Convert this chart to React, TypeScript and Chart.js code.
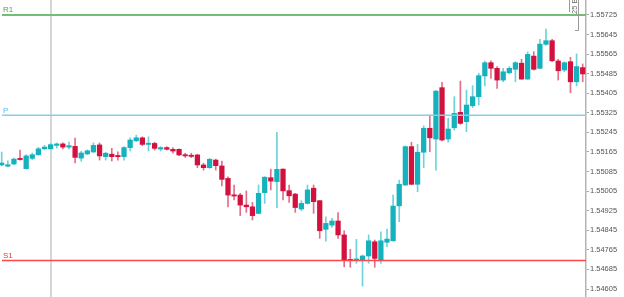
import React, { useEffect, useRef } from "react";
import { Chart, registerables } from "chart.js";

Chart.register(...registerables);

// ---- data ----
const opens = [
  1.55112, 1.55107, 1.55116, 1.55138, 1.55097, 1.55139, 1.55154, 1.55178, 1.55178, 1.55192,
  1.55198, 1.55185, 1.55188, 1.55140, 1.55157, 1.55165, 1.55194, 1.55146, 1.55156, 1.55149,
  1.55146, 1.55183, 1.55211, 1.55223, 1.55196, 1.55200, 1.55177, 1.55183, 1.55176, 1.55176,
  1.55153, 1.55150, 1.55153, 1.55112, 1.55101, 1.55132, 1.55108, 1.55057, 1.54989, 1.54989,
  1.54948, 1.54941, 1.54914, 1.54999, 1.55060, 1.55044, 1.55095, 1.55007, 1.54993, 1.54932,
  1.54955, 1.55017, 1.54966, 1.54849, 1.54866, 1.54883, 1.54826, 1.54726, 1.54723, 1.54723,
  1.54740, 1.54798, 1.54723, 1.54796, 1.54802, 1.54945, 1.55030, 1.55187, 1.55033, 1.55164,
  1.55262, 1.55218, 1.55428, 1.55218, 1.55264, 1.55327, 1.55289, 1.55354, 1.55391, 1.55476,
  1.55530, 1.55507, 1.55459, 1.55489, 1.55503, 1.55528, 1.55463, 1.55557, 1.55507, 1.55605,
  1.55620, 1.55537, 1.55500, 1.55534, 1.55452, 1.55510,
];
const highs = [
  1.55165, 1.55129, 1.55140, 1.55173, 1.55154, 1.55161, 1.55184, 1.55192, 1.55200, 1.55202,
  1.55202, 1.55206, 1.55222, 1.55168, 1.55174, 1.55202, 1.55202, 1.55164, 1.55180, 1.55166,
  1.55187, 1.55223, 1.55234, 1.55227, 1.55227, 1.55205, 1.55187, 1.55187, 1.55183, 1.55178,
  1.55160, 1.55160, 1.55156, 1.55119, 1.55139, 1.55136, 1.55128, 1.55064, 1.55030, 1.54996,
  1.55006, 1.54959, 1.55030, 1.55064, 1.55095, 1.55245, 1.55096, 1.55030, 1.54996, 1.54966,
  1.55030, 1.55030, 1.54967, 1.54900, 1.54894, 1.54917, 1.54843, 1.54767, 1.54808, 1.54744,
  1.54826, 1.54805, 1.54839, 1.54850, 1.54989, 1.55050, 1.55190, 1.55205, 1.55196, 1.55272,
  1.55316, 1.55416, 1.55450, 1.55303, 1.55391, 1.55455, 1.55418, 1.55436, 1.55487, 1.55537,
  1.55538, 1.55514, 1.55507, 1.55514, 1.55534, 1.55544, 1.55574, 1.55575, 1.55626, 1.55667,
  1.55626, 1.55544, 1.55534, 1.55552, 1.55566, 1.55525,
];
const lows = [
  1.55108, 1.55104, 1.55113, 1.55132, 1.55095, 1.55134, 1.55151, 1.55174, 1.55176, 1.55181,
  1.55178, 1.55178, 1.55120, 1.55127, 1.55154, 1.55163, 1.55132, 1.55132, 1.55128, 1.55132,
  1.55132, 1.55169, 1.55207, 1.55191, 1.55169, 1.55173, 1.55169, 1.55173, 1.55160, 1.55150,
  1.55143, 1.55142, 1.55101, 1.55091, 1.55098, 1.55091, 1.55026, 1.54941, 1.54969, 1.54905,
  1.54918, 1.54887, 1.54912, 1.54955, 1.55010, 1.54937, 1.54969, 1.54959, 1.54918, 1.54925,
  1.54952, 1.54914, 1.54812, 1.54801, 1.54857, 1.54812, 1.54696, 1.54694, 1.54710, 1.54617,
  1.54710, 1.54694, 1.54710, 1.54778, 1.54800, 1.54880, 1.55028, 1.55031, 1.55003, 1.55101,
  1.55166, 1.55091, 1.55210, 1.55205, 1.55255, 1.55278, 1.55248, 1.55346, 1.55357, 1.55435,
  1.55466, 1.55425, 1.55452, 1.55484, 1.55452, 1.55462, 1.55462, 1.55500, 1.55506, 1.55602,
  1.55534, 1.55459, 1.55493, 1.55407, 1.55435, 1.55452,
];
const closes = [
  1.55120, 1.55113, 1.55136, 1.55134, 1.55149, 1.55154, 1.55178, 1.55185, 1.55195, 1.55198,
  1.55185, 1.55191, 1.55143, 1.55161, 1.55170, 1.55192, 1.55149, 1.55160, 1.55146, 1.55146,
  1.55183, 1.55214, 1.55223, 1.55196, 1.55200, 1.55180, 1.55183, 1.55176, 1.55169, 1.55153,
  1.55149, 1.55147, 1.55112, 1.55101, 1.55135, 1.55109, 1.55053, 1.54989, 1.54985, 1.54948,
  1.54941, 1.54905, 1.54996, 1.55062, 1.55046, 1.55094, 1.55006, 1.54986, 1.54938, 1.54955,
  1.55010, 1.54962, 1.54843, 1.54873, 1.54883, 1.54826, 1.54723, 1.54721, 1.54726, 1.54740,
  1.54802, 1.54730, 1.54802, 1.54809, 1.54944, 1.55033, 1.55187, 1.55033, 1.55164, 1.55262,
  1.55223, 1.55414, 1.55214, 1.55259, 1.55323, 1.55282, 1.55357, 1.55391, 1.55477, 1.55530,
  1.55507, 1.55459, 1.55493, 1.55507, 1.55530, 1.55463, 1.55564, 1.55503, 1.55606, 1.55620,
  1.55538, 1.55497, 1.55530, 1.55452, 1.55514, 1.55484,
];

const yTicks = [
  1.54605, 1.54685, 1.54765, 1.54845, 1.54925, 1.55005, 1.55085, 1.55165,
  1.55245, 1.55325, 1.55405, 1.55485, 1.55565, 1.55645, 1.55725,
];

const pivotNames = ["R1", "P", "S1"];
const pivotValues = [1.55725, 1.55315, 1.54722];
const separatorIndex = 8;
const barsNote = "25 B";

// ---- styles ----
const BULL = "#15b1bd";
const BEAR = "#d3113f";
const BULL_WICK = "#6fd2da";
const BEAR_WICK = "#e56d8c";
const pivotColors = ["#72be72", "#86cdea", "#ff4646"];
const pivotLabelColors = ["#4fa94f", "#5cbde6", "#f03a3a"];
const pivotWidths = [2, 1.5, 1.5];

export default function App() {
  const ref = useRef<HTMLCanvasElement | null>(null);

  useEffect(() => {
    const canvas = ref.current;
    if (!canvas) return;

    const idx = opens.map((_, i) => i);
    const isBull = idx.map((i) => closes[i] >= opens[i]);

    const overlay = {
      id: "overlay",
      beforeDatasetsDraw(chart: any) {
        const { ctx, chartArea, scales } = chart;
        const px = Math.round(scales.x.getPixelForValue(separatorIndex));
        ctx.save();
        ctx.strokeStyle = "#c9c9c9";
        ctx.lineWidth = 1.5;
        ctx.beginPath();
        ctx.moveTo(px, chartArea.top);
        ctx.lineTo(px, chartArea.bottom);
        ctx.stroke();
        ctx.restore();
      },
      afterDatasetsDraw(chart: any) {
        const { ctx, chartArea, scales } = chart;
        ctx.save();
        pivotValues.forEach((v, k) => {
          const py = scales.y.getPixelForValue(v);
          ctx.strokeStyle = pivotColors[k];
          ctx.lineWidth = pivotWidths[k];
          ctx.beginPath();
          ctx.moveTo(2, py);
          ctx.lineTo(chartArea.right, py);
          ctx.stroke();
          ctx.fillStyle = pivotLabelColors[k];
          ctx.font = "8px 'Liberation Sans', Arial, sans-serif";
          ctx.textBaseline = "alphabetic";
          ctx.textAlign = "left";
          ctx.fillText(pivotNames[k], 3, py - 2.5);
        });
        // small bracket with rotated note at top-right
        ctx.strokeStyle = "#9a9a9a";
        ctx.lineWidth = 1;
        ctx.beginPath();
        ctx.moveTo(569.5, 0);
        ctx.lineTo(569.5, 12);
        ctx.moveTo(578.5, 0);
        ctx.lineTo(578.5, 30.5);
        ctx.lineTo(575, 30.5);
        ctx.stroke();
        ctx.translate(577, 14);
        ctx.rotate(-Math.PI / 2);
        ctx.fillStyle = "#6a6a6a";
        ctx.font = "7.5px 'Liberation Sans', Arial, sans-serif";
        ctx.textAlign = "left";
        ctx.textBaseline = "alphabetic";
        ctx.fillText(barsNote, 0, 0);
        ctx.restore();
      },
    };

    const chart = new Chart(canvas, {
      type: "bar",
      data: {
        datasets: [
          {
            label: "body",
            data: idx.map((i) => ({ x: i, y: [opens[i], closes[i]] })) as any,
            backgroundColor: idx.map((i) => (isBull[i] ? BULL : BEAR)),
            borderWidth: 0,
            grouped: false,
            barPercentage: 1,
            categoryPercentage: 1,
            maxBarThickness: 4.6,
            minBarLength: 1.2,
            clip: false as any,
          } as any,
          {
            label: "wick",
            data: idx.map((i) => ({ x: i, y: [lows[i], highs[i]] })) as any,
            backgroundColor: idx.map((i) => (isBull[i] ? BULL_WICK : BEAR_WICK)),
            borderWidth: 0,
            grouped: false,
            barPercentage: 1,
            categoryPercentage: 1,
            maxBarThickness: 1,
            clip: false as any,
          } as any,
        ],
      },
      options: {
        animation: false,
        responsive: false,
        devicePixelRatio: 1,
        layout: { padding: 0 },
        plugins: {
          legend: { display: false },
          tooltip: { enabled: false },
        },
        scales: {
          x: {
            type: "linear",
            display: false,
            offset: false,
            min: -0.278,
            max: 95.54,
          },
          y: {
            type: "linear",
            position: "right",
            min: 1.545723,
            max: 1.557863,
            beginAtZero: false,
            afterBuildTicks: (s: any) => {
              s.ticks = yTicks.map((v) => ({ value: v }));
            },
            afterFit: (s: any) => {
              s.width = 38;
              s.paddingTop = 0;
              s.paddingBottom = 0;
            },
            grid: {
              drawOnChartArea: false,
              drawTicks: true,
              tickLength: 3,
              color: "#a8a8a8",
              lineWidth: 1,
            },
            border: { display: true, color: "#b4b4b4", width: 1.5 },
            ticks: {
              padding: 1,
              color: "#555",
              font: { family: "'Liberation Sans', Arial, sans-serif", size: 7.5 },
              callback: (v: any) => Number(v).toFixed(5),
              autoSkip: false,
            },
          },
        },
      } as any,
      plugins: [overlay],
    });

    return () => chart.destroy();
  }, []);

  return (
    <div style={{ position: "absolute", left: 0, top: 0, width: 624, height: 297, background: "#fff" }}>
      <canvas ref={ref} width={624} height={297} style={{ display: "block" }} />
    </div>
  );
}
